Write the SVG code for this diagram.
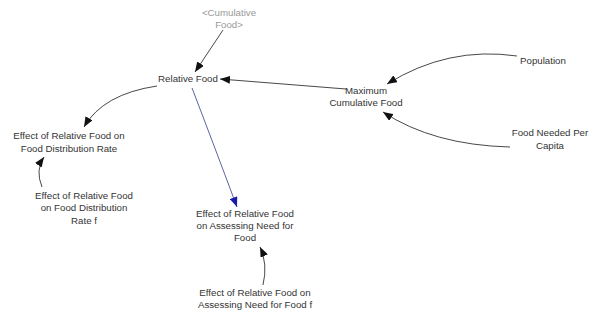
<svg xmlns="http://www.w3.org/2000/svg" width="589" height="324" viewBox="0 0 589 324">
<style>
text{font-family:"Liberation Sans",Arial,sans-serif;font-size:9.7px;fill:#333;text-anchor:middle}
.shadow{fill:#999}
.c{fill:none;stroke:#333;stroke-width:0.9}
.b{fill:none;stroke:#4a5296;stroke-width:0.9}
</style>
<defs>
<marker id="ah" viewBox="0 0 10 8" refX="10" refY="4" markerWidth="10" markerHeight="8" markerUnits="userSpaceOnUse" orient="auto"><path d="M0,0 L10,4 L0,8 z" fill="#111"/></marker>
<marker id="ahb" viewBox="0 0 10 8" refX="10" refY="4" markerWidth="10" markerHeight="8" markerUnits="userSpaceOnUse" orient="auto"><path d="M0,0 L10,4 L0,8 z" fill="#1a1aa8"/></marker>
</defs>
<g id="connectors">
<path class="c" d="M223,30 L195,72" marker-end="url(#ah)"/>
<path class="c" d="M346,89 L220,79" marker-end="url(#ah)"/>
<path class="c" d="M157,86 Q103,94 84,127" marker-end="url(#ah)"/>
<path class="b" d="M192,88 Q212,140 237,207" marker-end="url(#ahb)"/>
<path class="c" d="M42,187 Q35,170 44,157" marker-end="url(#ah)"/>
<path class="c" d="M263,285 Q268,264 260,247" marker-end="url(#ah)"/>
<path class="c" d="M517,56 Q448,46 387,84" marker-end="url(#ah)"/>
<path class="c" d="M510,147 Q433,145 383,112" marker-end="url(#ah)"/>
</g>
<g id="cumulative-food"><text class="shadow" x="229" y="16">&lt;Cumulative</text><text class="shadow" x="229" y="28">Food&gt;</text></g>
<g id="relative-food"><text x="188" y="82">Relative Food</text></g>
<g id="maximum-cumulative-food"><text x="366" y="94">Maximum</text><text x="366" y="106">Cumulative Food</text></g>
<g id="population"><text x="543" y="64">Population</text></g>
<g id="food-needed-per-capita"><text x="550" y="136">Food Needed Per</text><text x="550" y="149">Capita</text></g>
<g id="effect-distribution"><text x="69" y="139">Effect of Relative Food on</text><text x="69" y="152">Food Distribution Rate</text></g>
<g id="effect-distribution-f"><text x="84" y="199">Effect of Relative Food</text><text x="84" y="211">on Food Distribution</text><text x="84" y="224">Rate f</text></g>
<g id="effect-assessing"><text x="245" y="217">Effect of Relative Food</text><text x="245" y="229">on Assessing Need for</text><text x="245" y="241">Food</text></g>
<g id="effect-assessing-f"><text x="255" y="296">Effect of Relative Food on</text><text x="255" y="308">Assessing Need for Food f</text></g>
</svg>
